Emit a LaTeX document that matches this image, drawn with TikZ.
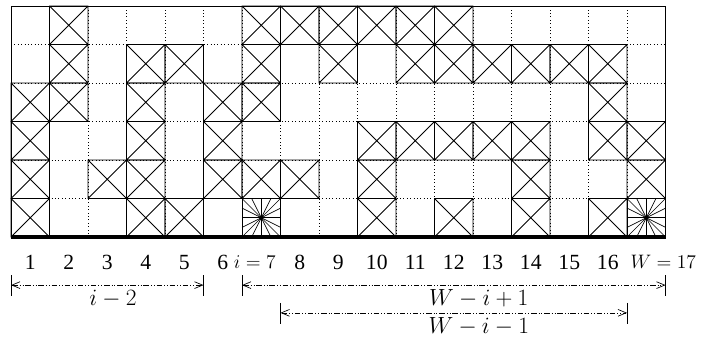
\documentclass[tikz,border=0pt]{standalone}
\usepackage{fontspec}
\setmainfont{Liberation Serif}
\usetikzlibrary{arrows.meta}
\begin{document}
\begin{tikzpicture}[font=\fontsize{16}{19}\selectfont,
    gridline/.style={dotted,line width=0.5pt},
    cellbox/.style={line width=0.6pt},
    dimline/.style={line width=0.5pt,
                    dash pattern=on 4pt off 1.5pt on 0.6pt off 1.5pt on 0.6pt off 1.5pt,
                    {Straight Barb[length=6pt,width=5pt]}-{Straight Barb[length=6pt,width=5pt]}},
    endbar/.style={line width=0.6pt},
    mathnum/.style={font=\fontsize{14}{17}\selectfont},
    dimlabel/.style={font=\fontsize{17}{20}\selectfont}]
  \useasboundingbox (-0.286,-2.623) rectangle (18.0,6.156);
  \draw[gridline] (0,0) grid (17,6);
  % crossed cells (column/row)
  \foreach \c/\r in {2/6,7/6,8/6,9/6,10/6,11/6,12/6,
                     2/5,4/5,5/5,7/5,9/5,11/5,12/5,13/5,14/5,15/5,16/5,
                     1/4,2/4,4/4,6/4,7/4,16/4,
                     1/3,4/3,6/3,10/3,11/3,12/3,13/3,14/3,16/3,17/3,
                     1/2,3/2,4/2,6/2,7/2,8/2,10/2,14/2,17/2,
                     1/1,4/1,5/1,10/1,12/1,14/1,16/1}
    \draw[cellbox] (\c-1,\r-1) rectangle (\c,\r)
                   (\c-1,\r-1) -- (\c,\r) (\c-1,\r) -- (\c,\r-1);
  % star cells
  \foreach \c in {7,17} {
    \draw[cellbox] (\c-1,0) rectangle (\c,1);
    \foreach \t in {0,0.25,0.5,0.75,1}
      \draw[line width=0.5pt] (\c-1+\t,0) -- (\c-\t,1) (\c-1,\t) -- (\c,1-\t);
    \fill (\c-0.5,0.5) circle (1.5pt);
  }
  \draw[line width=0.6pt] (0,0) rectangle (17,6);
  \draw[line width=3pt] (0,0) -- (17,0);
  % column numbers
  \foreach \n in {1,...,6,8,9,...,16}
    \node (col\n) at (\n-0.5,-0.65) {\n};
  \node[mathnum] (col7) at (6.33,-0.65) {$i=7$};
  \node[mathnum,anchor=west] (col17) at (15.97,-0.65) {$W=17$};
  % dimensions
  \coordinate (a1) at (0,-1.25);
  \coordinate (a2) at (5,-1.25);
  \coordinate (b1) at (6,-1.25);
  \coordinate (b2) at (17,-1.25);
  \coordinate (c1) at (7,-1.97);
  \coordinate (c2) at (16,-1.97);
  \foreach \p in {a1,a2,b1,b2,c1,c2}
    \draw[endbar] (\p) ++(0,0.26) -- ++(0,-0.54);
  \draw[dimline] (a1) -- (a2);
  \draw[dimline] (b1) -- (b2);
  \draw[dimline] (c1) -- (c2);
  \node[dimlabel] (la) at (2.65,-1.6) {$i-2$};
  \node[dimlabel] (lb) at (12.15,-1.6) {$W-i+1$};
  \node[dimlabel] (lc) at (12.15,-2.32) {$W-i-1$};
\end{tikzpicture}
\end{document}
